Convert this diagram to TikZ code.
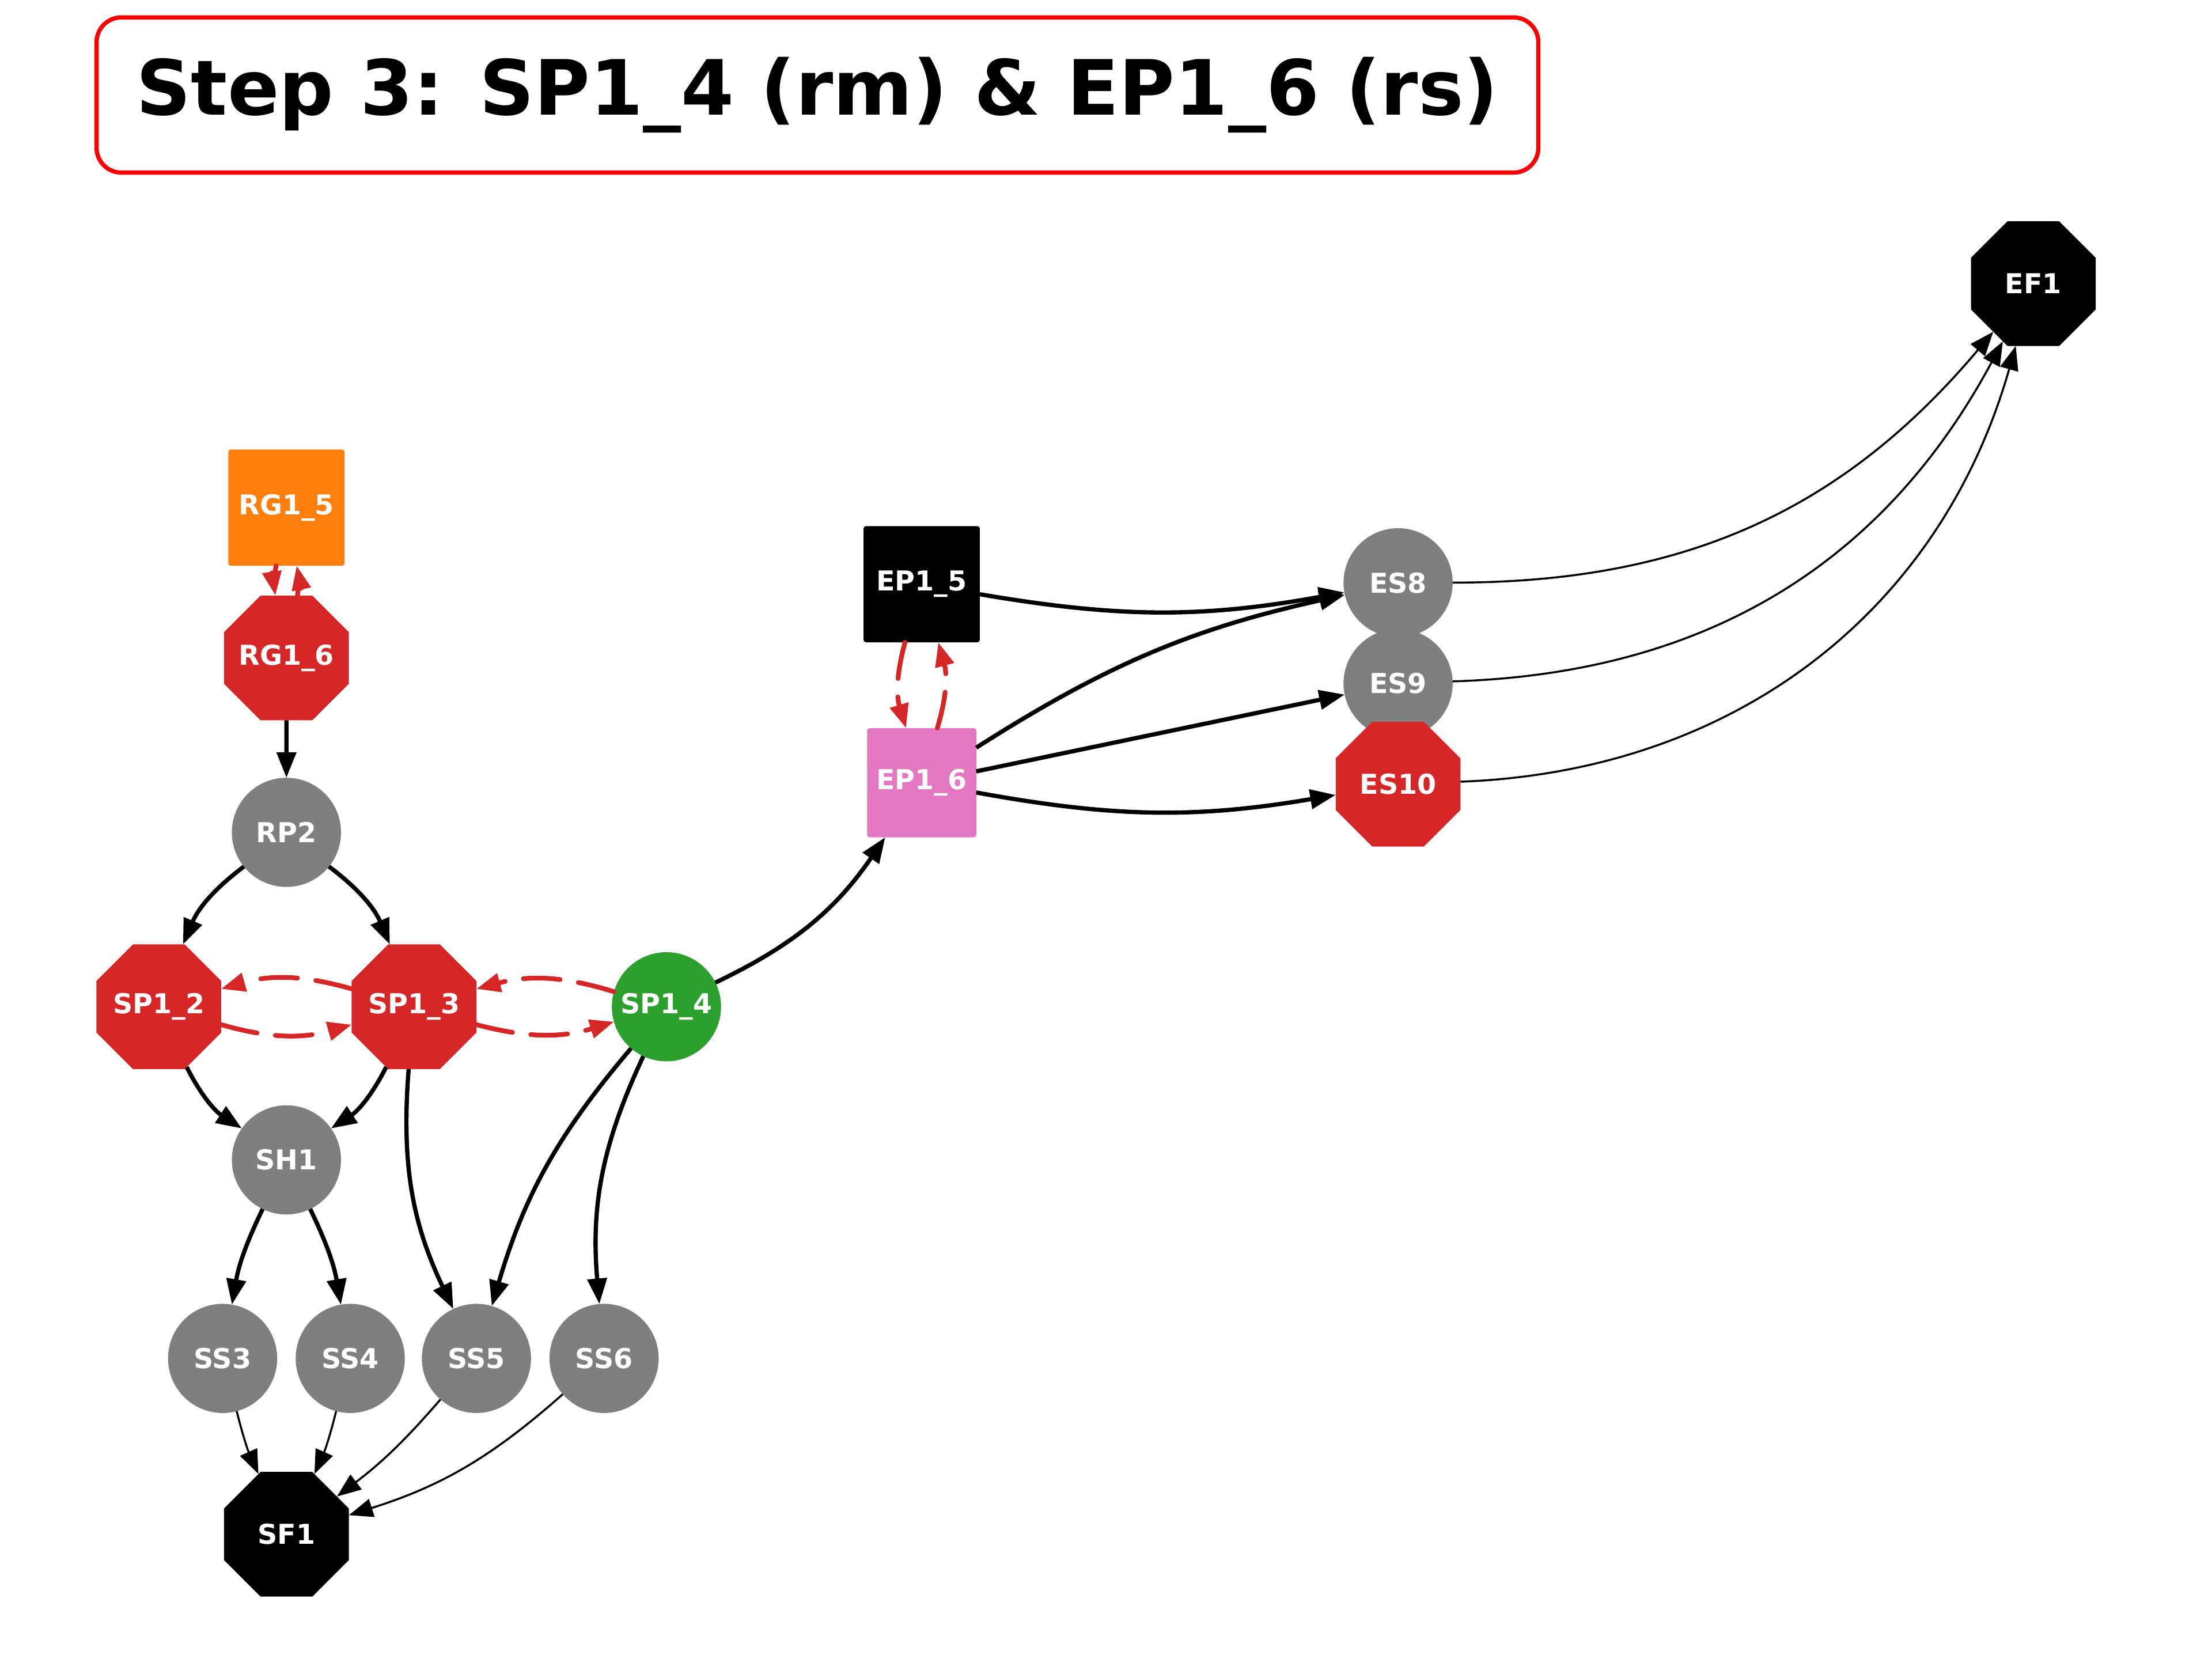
\documentclass[tikz,border=0pt]{standalone}
\usepackage{fontspec}
\setmainfont{DejaVu Sans}
\usepackage{xcolor}
\usepackage{tikz}
\usetikzlibrary{shapes.geometric}
\usetikzlibrary{arrows.meta}

\definecolor{tabred}{HTML}{D62728}
\definecolor{taborange}{HTML}{FF7F0E}
\definecolor{tabgreen}{HTML}{2CA02C}
\definecolor{tabgray}{HTML}{7F7F7F}
\definecolor{tabpink}{HTML}{E377C2}

\tikzset{
    lblnode/.style={text=white,font=\fontsize{11}{13}\selectfont\bfseries,inner sep=0pt,outer sep=0pt},
    octnode/.style={lblnode,regular polygon,regular polygon sides=8,minimum size=1.905cm,inner sep=-4mm},
    roundnode/.style={lblnode,circle,minimum size=1.54cm},
    sqnode/.style={lblnode,rectangle,rounded corners=1pt,minimum size=1.64cm},
    link/.style={-{Triangle[length=0.36cm,width=0.27cm]},line width=1.7pt},
    thinlink/.style={-{Triangle[length=0.34cm,width=0.26cm]},line width=0.8pt},
    dashlink/.style={-{Triangle[length=0.34cm,width=0.26cm]},tabred,line width=1.9pt,line cap=round,dash pattern=on 0.52cm off 0.26cm}
}

\begin{document}
\begin{tikzpicture}[x=0.02cm,y=-0.02cm]
    \useasboundingbox (0,0) rectangle (1560,1170);

    \node[draw=red,line width=1.7pt,rounded corners=0.35cm,minimum width=20.34cm,minimum height=2.19cm,inner sep=0pt,
          font=\fontsize{30.6}{36}\selectfont\bfseries] (title) at (576.5,67) {Step 3: SP1\_4 (rm) \& EP1\_6 (rs)};

    \node[sqnode,fill=taborange] (rg15) at (202,358) {RG1\_5};
    \node[octnode,fill=tabred] (rg16) at (202,464) {RG1\_6};
    \node[roundnode,fill=tabgray] (rp2) at (202,587) {RP2};
    \node[octnode,fill=tabred] (sp12) at (112,710) {SP1\_2};
    \node[octnode,fill=tabred] (sp13) at (292,710) {SP1\_3};
    \node[roundnode,fill=tabgreen] (sp14) at (470,710) {SP1\_4};
    \node[roundnode,fill=tabgray] (sh1) at (202,818) {SH1};
    \node[roundnode,fill=tabgray] (ss3) at (157,958) {SS3};
    \node[roundnode,fill=tabgray] (ss4) at (247,958) {SS4};
    \node[roundnode,fill=tabgray] (ss5) at (336,958) {SS5};
    \node[roundnode,fill=tabgray] (ss6) at (426,958) {SS6};
    \node[octnode,fill=black] (sf1) at (202,1082) {SF1};

    \node[sqnode,fill=black] (ep15) at (650,412) {EP1\_5};
    \node[sqnode,fill=tabpink,minimum size=1.54cm] (ep16) at (650,552) {EP1\_6};
    \node[roundnode,fill=tabgray] (es8) at (986,411) {ES8};
    \node[roundnode,fill=tabgray] (es9) at (986,482) {ES9};
    \node[octnode,fill=tabred] (es10) at (986,553) {ES10};
    \node[octnode,fill=black] (ef1) at (1434,200) {EF1};

    \draw[dashlink] (rg15) to[bend right=10] (rg16);
    \draw[dashlink] (rg16) to[bend right=10] (rg15);
    \draw[dashlink] (sp12) to[bend right=16] (sp13);
    \draw[dashlink] (sp13) to[bend right=16] (sp12);
    \draw[dashlink] (sp13) to[bend right=16] (sp14);
    \draw[dashlink] (sp14) to[bend right=16] (sp13);
    \draw[dashlink] (ep15) to[bend right=16] (ep16);
    \draw[dashlink] (ep16) to[bend right=16] (ep15);

    \draw[link] (rg16)--(rp2);
    \draw[link] (rp2) to[bend right=15] (sp12);
    \draw[link] (rp2) to[bend left=15] (sp13);
    \draw[link] (sp12) to[bend right=15] (sh1);
    \draw[link] (sp13) to[bend left=15] (sh1);
    \draw[link] (sp13) to[bend right=15] (ss5);
    \draw[link] (sp14) to[bend right=12] (ss5);
    \draw[link] (sp14) to[bend right=15] (ss6);
    \draw[link] (sh1) to[bend right=8] (ss3);
    \draw[link] (sh1) to[bend left=8] (ss4);
    \draw[link] (sp14) to[bend right=15] (ep16);
    \draw[link] (ep15) to[bend right=10] (es8);
    \draw[link] (ep16) to[bend left=10] (es8);
    \draw[link] (ep16)--(es9);
    \draw[link] (ep16) to[bend right=10] (es10);

    \draw[thinlink] (ss3) to[bend right=5] (sf1);
    \draw[thinlink] (ss4) to[bend left=5] (sf1);
    \draw[thinlink] (ss5) to[bend left=6] (sf1);
    \draw[thinlink] (ss6) to[bend left=12] (sf1);
    \draw[thinlink] (es8) to[bend right=25] (ef1);
    \draw[thinlink] (es9) to[bend right=30] (ef1);
    \draw[thinlink] (es10) to[bend right=36] (ef1);
\end{tikzpicture}
\end{document}
